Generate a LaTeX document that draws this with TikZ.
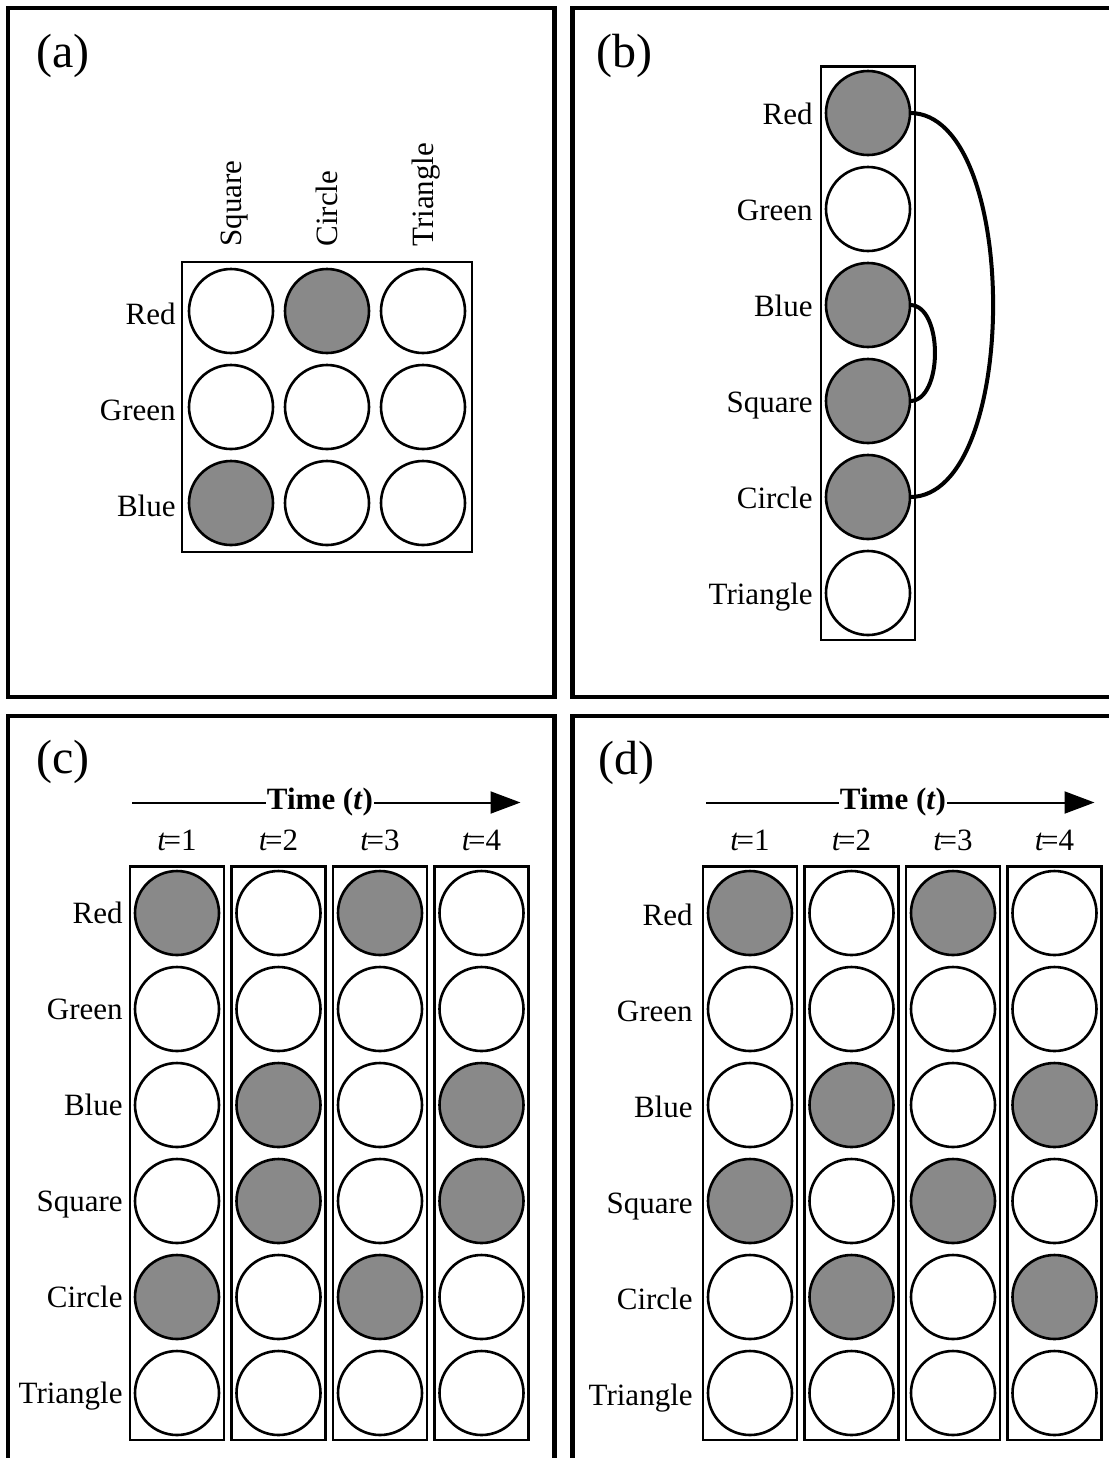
\documentclass[tikz,border=0pt]{standalone}
\usepackage{fontspec}
\setmainfont{Liberation Serif}
\usetikzlibrary{arrows.meta}
\definecolor{dotfill}{RGB}{137,137,137}
\tikzset{
  panel/.style={line width=2.25pt},
  holder/.style={line width=1.3pt},
  dot/.style={circle,draw,line width=1.3pt,minimum size=42pt,inner sep=0pt,outer sep=0pt,fill=white},
  on/.style={dot,fill=dotfill},
  lab/.style={font=\fontsize{15.5pt}{18pt}\selectfont,inner sep=0pt,anchor=base east},
  tlab/.style={font=\fontsize{15.5pt}{18pt}\selectfont,inner sep=0pt,anchor=base},
  tag/.style={font=\fontsize{24pt}{28pt}\selectfont,inner sep=0pt,anchor=base west},
  timetext/.style={font=\fontsize{15.5pt}{18pt}\selectfont\bfseries,inner sep=0.5pt},
  link/.style={line width=2pt},
  timeline/.style={line width=1pt},
  timetip/.style={timeline,-{Triangle[length=15pt,width=11pt]}}
}
\newcommand{\tstep}[1]{\textit{t}\kern-1.5pt=#1}
\begin{document}
\begin{tikzpicture}[x=0.5pt,y=-0.5pt]
\useasboundingbox (0,0) rectangle (1109,1458);
\clip (0,0) rectangle (1109,1458);
\fill[white] (0,0) rectangle (1109,1458);

% four panel frames
\draw[panel] (8,8) rectangle (554.5,697);
\draw[panel] (572.5,8) rectangle (1130,697);
\draw[panel] (8,716) rectangle (554.5,1480);
\draw[panel] (572.5,716) rectangle (1130,1480);

\node[tag] (tag-a) at (36,67) {(a)};
\node[tag] (tag-b) at (596,67) {(b)};
\node[tag] (tag-c) at (36,773.5) {(c)};
\node[tag] (tag-d) at (598,774) {(d)};

% (a) colour x shape grid
\draw[holder] (182,262) rectangle (472,552);
\foreach \name/\y/\sa/\sb/\sc [count=\r] in {Red/311/dot/on/dot, Green/407/dot/dot/dot, Blue/503/on/dot/dot} {
  \node[\sa] (a-\r-1) at (231,\y) {};
  \node[\sb] (a-\r-2) at (327,\y) {};
  \node[\sc] (a-\r-3) at (423,\y) {};
  \node[lab] (a-row-\r) at (176,\y+13) {\name};
}
\foreach \name/\x [count=\c] in {Square/231, Circle/327, Triangle/423} {
  \node[lab,anchor=base west,rotate=90] (a-col-\c) at (\x+10.5,247) {\name};
}

% (b) single column with links
\draw[holder] (821,66.5) rectangle (915,640);
\foreach \name/\s [count=\r] in {Red/on, Green/dot, Blue/on, Square/on, Circle/on, Triangle/dot} {
  \node[\s] (b-\r) at (868,17+96*\r) {};
  \node[lab] (b-row-\r) at (813,28+96*\r) {\name};
}
\draw[link] (b-1.east) to[out=0,in=0,looseness=0.74] (b-5.east);
\draw[link] (b-3.east) to[out=0,in=0,looseness=0.89] (b-4.east);

% (c) four time steps
\node[timetext] (c-time) at (320,802.5) {Time (\textit{t})};
\coordinate (c-start) at (132,802.5);
\coordinate (c-tip) at (520.5,802.5);
\draw[timeline] (c-start) -- (c-time.west);
\draw[timetip] (c-time.east) -- (c-tip);
\foreach \name [count=\r] in {Red, Green, Blue, Square, Circle, Triangle} {
  \node[lab] (c-row-\r) at (123,827.5+96*\r) {\name};
}
\foreach \x/\pat [count=\t] in {177/{on,dot,dot,dot,on,dot}, 278.5/{dot,dot,on,on,dot,dot}, 380/{on,dot,dot,dot,on,dot}, 481.5/{dot,dot,on,on,dot,dot}} {
  \draw[holder] (\x-47,866.5) rectangle (\x+47,1440);
  \node[tlab] (c-t\t) at (\x,850) {\tstep{\t}};
  \foreach \s [count=\r] in \pat {
    \node[\s] (c-\t-\r) at (\x,817+96*\r) {};
  }
}

% (d) four time steps
\node[timetext] (d-time) at (893,802.5) {Time (\textit{t})};
\coordinate (d-start) at (706,802.5);
\coordinate (d-tip) at (1094.5,802.5);
\draw[timeline] (d-start) -- (d-time.west);
\draw[timetip] (d-time.east) -- (d-tip);
\foreach \name [count=\r] in {Red, Green, Blue, Square, Circle, Triangle} {
  \node[lab] (d-row-\r) at (693,829+96*\r) {\name};
}
\foreach \x/\pat [count=\t] in {750/{on,dot,dot,on,dot,dot}, 851.5/{dot,dot,on,dot,on,dot}, 953/{on,dot,dot,on,dot,dot}, 1054.5/{dot,dot,on,dot,on,dot}} {
  \draw[holder] (\x-47,866.5) rectangle (\x+47,1440);
  \node[tlab] (d-t\t) at (\x,850) {\tstep{\t}};
  \foreach \s [count=\r] in \pat {
    \node[\s] (d-\t-\r) at (\x,817+96*\r) {};
  }
}
\end{tikzpicture}
\end{document}
